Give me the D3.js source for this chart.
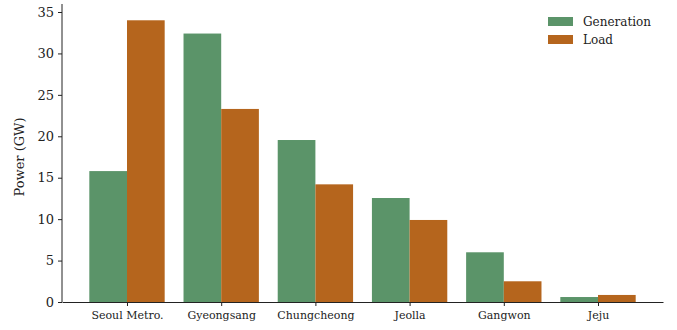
<!DOCTYPE html>
<html>
<head>
<meta charset="utf-8">
<script src="https://cdn.jsdelivr.net/npm/d3@7"></script>
<style>
  body { margin: 0; background: #fff; }
  text { font-family: "DejaVu Serif", serif; fill: #222; }
</style>
</head>
<body>
<div id="chart"></div>
<script>
// data
const regions = ["Seoul Metro.", "Gyeongsang", "Chungcheong", "Jeolla", "Gangwon", "Jeju"];
const generation = [15.8, 32.4, 19.55, 12.55, 6.0, 0.6];
const load = [34.0, 23.3, 14.2, 9.9, 2.5, 0.85];
const yTicks = [0, 5, 10, 15, 20, 25, 30, 35];
const seriesNames = ["Generation", "Load"];
const colors = ["#5b9469", "#b5651d"];

const width = 677, height = 330;
const margin = {top: 12, right: 14, bottom: 28, left: 62};

const svg = d3.select("#chart").append("svg")
  .attr("width", width)
  .attr("height", height);

// matplotlib-ish x limits: bars at i-0.2 / i+0.2, width 0.4, 5% margin
const xscale = d3.scaleLinear()
  .domain([-0.69, regions.length - 1 + 0.69])
  .range([margin.left, width - margin.right]);

const yscale = d3.scaleLinear()
  .domain([0, 35])
  .range([height - margin.bottom, margin.top]);

const barW = 0.4;

const series = [generation, load];
series.forEach((vals, s) => {
  svg.append("g")
    .attr("fill", colors[s])
    .selectAll("rect")
    .data(vals)
    .join("rect")
    .attr("x", (d, i) => xscale(i - barW + s * barW))
    .attr("width", xscale(barW) - xscale(0))
    .attr("y", d => yscale(d))
    .attr("height", d => yscale(0) - yscale(d));
});

// axes
const yAxis = svg.append("g")
  .attr("transform", `translate(${margin.left},0)`)
  .call(d3.axisLeft(yscale).tickValues(yTicks).tickSize(4).tickPadding(4));
yAxis.selectAll("text").style("font-size", "13px");

const xAxis = svg.append("g")
  .attr("transform", `translate(0,${height - margin.bottom})`)
  .call(d3.axisBottom(xscale).tickValues(d3.range(regions.length))
    .tickFormat(i => regions[i]).tickSize(4).tickPadding(5).tickSizeOuter(0));
xAxis.selectAll("text").style("font-size", "11px");

svg.selectAll(".domain").attr("stroke", "#222").attr("stroke-width", 1);
svg.selectAll(".tick line").attr("stroke", "#222");
yAxis.select(".domain").attr("d", `M0,${yscale(0)}V${yscale(35) - 8}`);
yAxis.selectAll("text").style("font-family", "DejaVu Serif");

svg.append("text")
  .attr("transform", `translate(24,${(yscale(0) + yscale(35)) / 2}) rotate(-90)`)
  .attr("text-anchor", "middle")
  .style("font-size", "13px")
  .text("Power (GW)");

// legend
const legend = svg.append("g").attr("transform", "translate(548,17)");
seriesNames.forEach((name, i) => {
  legend.append("rect")
    .attr("x", 0).attr("y", i * 18)
    .attr("width", 25).attr("height", 9)
    .attr("fill", colors[i]);
  legend.append("text")
    .attr("x", 35).attr("y", i * 18 + 8.5)
    .style("font-size", "12px")
    .text(name);
});
</script>
</body>
</html>
